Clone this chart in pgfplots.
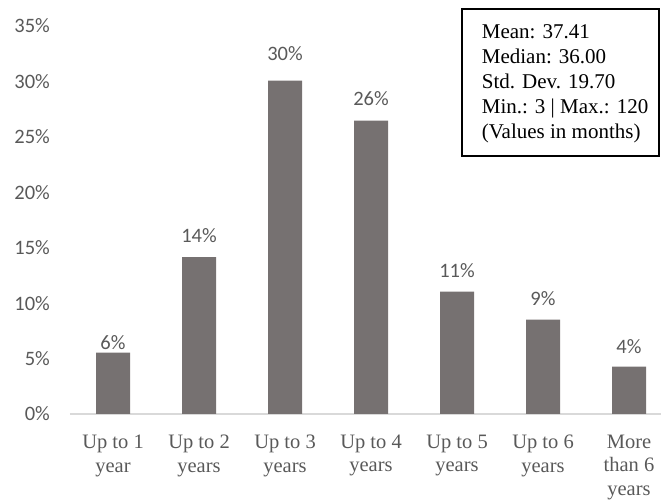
\documentclass[border=0pt]{standalone}
\usepackage{fontspec}
\setmainfont{Liberation Serif}
\newfontfamily\calibri{Carlito}
\usepackage{pgfplots}
\pgfplotsset{compat=1.18}
\usepackage{pgfplotstable}
\usetikzlibrary{calc}
\definecolor{barc}{HTML}{767171}
\definecolor{txt}{HTML}{595959}
\definecolor{axl}{HTML}{D9D9D9}

\pgfplotstableread{
x y off
0 5.53 3
1 14.14 14
2 30.07 20
3 26.46 15
4 11.03 13.7
5 8.52 13.7
6 4.28 12.7
}\data

\begin{document}
\begin{tikzpicture}
\begin{axis}[
  scale only axis, width=591pt, height=388pt,
  xmin=-0.5, xmax=6.372, ymin=0, ymax=35,
  axis x line*=bottom, axis y line*=left,
  x axis line style={axl, line width=1.5pt},
  y axis line style={draw=none},
  major tick length=0pt,
  ytick={0,5,...,35},
  yticklabel={\pgfmathprintnumber{\tick}\%},
  /pgf/number format/assume math mode=true,
  yticklabel style={font=\fontsize{20.5}{24}\calibri, color=txt, anchor=east, inner sep=0pt, xshift=-20pt},
  xtick={0,...,6},
  xticklabels={{Up to 1\\year},{Up to 2\\years},{Up to 3\\years},{Up to 4\\years},{Up to 5\\years},{Up to 6\\years},{More\\than 6\\years}},
  xticklabel style={font=\fontsize{20.5}{23.3}\selectfont, color=txt, align=center, anchor=north, inner sep=0pt, yshift=-21pt},
  clip=false,
  ybar, bar width=34pt, bar shift=0pt,
  visualization depends on={\thisrow{off} \as \myoff},
  nodes near coords={\pgfmathprintnumber[fixed,precision=0]{\pgfplotspointmeta}\%},
  nodes near coords style={font=\fontsize{20.5}{24}\calibri, color=txt, anchor=south, inner sep=0pt, yshift=\myoff pt},
]
\addplot[fill=barc, draw=none] table[x=x, y=y] {\data};
\end{axis}
\coordinate (O) at (current axis.south west);
\draw[line width=1.6pt] ($(O)+(391.7pt,405pt)$) rectangle ($(O)+(589pt,258pt)$);
\begin{scope}[every node/.style={anchor=base west, inner sep=0pt, font=\fontsize{21}{25}\selectfont}]
\node at ($(O)+(411.7pt,375.7pt)$) {Mean: 37.41};
\node at ($(O)+(411.7pt,350.7pt)$) {Median: 36.00};
\node at ($(O)+(411.7pt,325.7pt)$) {Std. Dev. 19.70};
\node at ($(O)+(411.7pt,300.7pt)$) {Min.: 3 | Max.: 120};
\node at ($(O)+(411.7pt,275.5pt)$) {(Values in months)};
\end{scope}
\pgfresetboundingbox
\path[use as bounding box] ($(O)+(-70pt,-88pt)$) rectangle ++(661pt,502pt);
\end{tikzpicture}
\end{document}
